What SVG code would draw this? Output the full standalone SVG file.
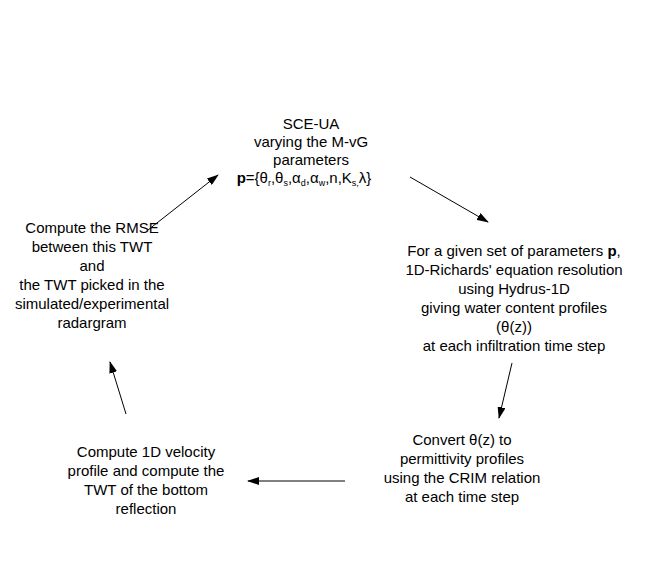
<svg xmlns="http://www.w3.org/2000/svg" width="645" height="561" viewBox="0 0 645 561">
<style>
text{font-family:"Liberation Sans",Arial,sans-serif;font-size:15px;fill:#000;text-anchor:middle}
.c line{stroke:#000;stroke-width:1;marker-end:url(#a)}
</style>
<defs><marker id="a" markerWidth="12" markerHeight="8" refX="11" refY="4" orient="auto" markerUnits="userSpaceOnUse"><path d="M0,0L12,4L0,8z" fill="#000"/></marker></defs>
<rect width="645" height="561" fill="#fff"/>
<g id="n1"><text x="311" y="129">SCE-UA</text><text x="311" y="147">varying the M-vG</text><text x="311" y="165">parameters</text>
<text x="304" y="183"><tspan font-weight="bold">p</tspan>={θ<tspan font-size="9" dy="3">r</tspan><tspan dy="-3">,θ</tspan><tspan font-size="9" dy="3">s</tspan><tspan dy="-3">,α</tspan><tspan font-size="9" dy="3">d</tspan><tspan dy="-3">,α</tspan><tspan font-size="9" dy="3">w</tspan><tspan dy="-3">,n,K</tspan><tspan font-size="9" dy="3">s,</tspan><tspan dy="-3">λ}</tspan></text></g>
<g id="n2"><text x="514" y="256">For a given set of parameters <tspan font-weight="bold">p</tspan>,</text><text x="514" y="275">1D-Richards' equation resolution</text><text x="514" y="294">using Hydrus-1D</text><text x="514" y="313">giving water content profiles</text><text x="514" y="332">(θ(z))</text><text x="514" y="351">at each infiltration time step</text></g>
<g id="n3"><text x="462" y="445">Convert θ(z) to</text><text x="462" y="464">permittivity profiles</text><text x="462" y="483">using the CRIM relation</text><text x="462" y="502">at each time step</text></g>
<g id="n4"><text x="146" y="457">Compute 1D velocity</text><text x="146" y="476">profile and compute the</text><text x="146" y="495">TWT of the bottom</text><text x="146" y="514">reflection</text></g>
<g id="n5"><text x="92" y="233">Compute the RMSE</text><text x="92" y="252">between this TWT</text><text x="92" y="271">and</text><text x="92" y="290">the TWT picked in the</text><text x="92" y="309">simulated/experimental</text><text x="92" y="328">radargram</text></g>
<g class="c" id="connectors">
<line x1="410" y1="177" x2="488" y2="222"/>
<line x1="512" y1="363" x2="499" y2="418"/>
<line x1="345" y1="481" x2="248" y2="481"/>
<line x1="126" y1="414" x2="110" y2="362"/>
<line x1="148" y1="230" x2="218" y2="175"/>
</g>
</svg>
